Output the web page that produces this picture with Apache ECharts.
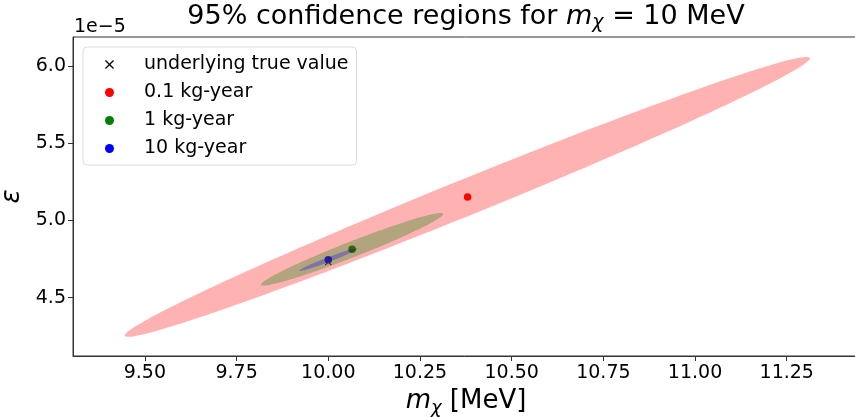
<!DOCTYPE html>
<html>
<head>
<meta charset="utf-8">
<script src="https://cdn.jsdelivr.net/npm/echarts@6/dist/echarts.min.js"></script>
<style>html,body{margin:0;padding:0;background:#fff}#main{width:855px;height:417px}</style>
</head>
<body>
<div id="main"></div>
<script>
// legend entries / scatter points
var seriesNames = ['underlying true value', '0.1 kg-year', '1 kg-year', '10 kg-year'];
var seriesColors = ['#000000', '#ff0000', '#008000', '#0000ff'];
// m_chi in MeV, epsilon in units of 1e-5
var pointMass = [10.0, 10.38, 10.065, 10.0];
var pointEps = [4.731, 5.152, 4.813, 4.746];

// 95% regions (0.1, 1, 10 kg-year): centre, end of the long axis, half vertical width at centre
var regionCenterMass = [10.379, 10.065, 10.0];
var regionCenterEps = [5.153, 4.813, 4.746];
var regionTipMass = [11.313, 10.3135, 10.079];
var regionTipEps = [6.052, 5.042, 4.8175];
var regionHalfHeight = [0.1265, 0.055, 0.016];
var regionColors = ['#ff0000', '#008000', '#0000ff'];

var xTicks = [9.5, 9.75, 10.0, 10.25, 10.5, 10.75, 11.0, 11.25];
var yTicks = [4.5, 5.0, 5.5, 6.0];

var font = 'DejaVu Sans';
var myChart = echarts.init(document.getElementById('main'));

var regionData = [];
for (var i = 0; i < regionCenterMass.length; i++) {
    regionData.push([regionCenterMass[i], regionCenterEps[i], regionTipMass[i], regionTipEps[i], regionHalfHeight[i]]);
}

var series = [];
for (var k = 0; k < seriesNames.length; k++) {
    series.push({
        name: seriesNames[k],
        type: 'scatter',
        z: 1,
        symbol: k === 0 ? 'path://M0,1L1,0L5,4L9,0L10,1L6,5L10,9L9,10L5,6L1,10L0,9L4,5Z' : 'circle',
        symbolSize: k === 0 ? 7 : 7.5,
        itemStyle: {color: seriesColors[k], opacity: 1},
        data: [[pointMass[k], pointEps[k]]]
    });
}
// confidence ellipses, drawn over the points like in the original
series.push({
    type: 'custom',
    z: 3,
    clip: true,
    data: regionData,
    encode: {x: [0, 2], y: [1, 3]},
    renderItem: function (params, api) {
        var cx = api.value(0), cy = api.value(1);
        var ax = api.value(2) - cx, ay = api.value(3) - cy;
        var h = api.value(4);
        var pts = [];
        for (var s = 0; s < 160; s++) {
            var t = 2 * Math.PI * s / 160;
            pts.push(api.coord([cx + Math.cos(t) * ax, cy + Math.cos(t) * ay + Math.sin(t) * h]));
        }
        return {
            type: 'polygon',
            shape: {points: pts},
            style: {fill: regionColors[params.dataIndex], opacity: 0.3}
        };
    }
});

var option = {
    animation: false,
    textStyle: {fontFamily: font},
    grid: {
        left: 73, top: 37, width: 786, height: 319,
        outerBoundsMode: 'none',
        containLabel: false,
        show: true, borderColor: '#333', borderWidth: 1
    },
    graphic: [
        {
            type: 'text', x: 466, y: 17,
            style: {
                text: '{a|95% confidence regions for }{i|m}{s|χ}{a| = 10 MeV}',
                align: 'center', verticalAlign: 'middle',
                rich: {
                    a: {fontFamily: font, fontSize: 27, fill: '#000'},
                    i: {fontFamily: font, fontSize: 27, fontStyle: 'italic', fill: '#000'},
                    s: {fontFamily: font, fontSize: 19, fontStyle: 'italic', fill: '#000', verticalAlign: 'bottom', padding: [13, 0, 0, 0]}
                }
            }
        },
        {
            type: 'text', x: 74, y: 27,
            style: {text: '1e\u22125', fontFamily: font, fontSize: 19, fill: '#000', align: 'left', verticalAlign: 'middle'}
        }
    ],
    legend: {
        data: seriesNames,
        orient: 'vertical',
        left: 83, top: 47,
        padding: [8, 8, 7, 22],
        itemGap: 9,
        itemWidth: 9,
        itemHeight: 9,
        backgroundColor: 'rgba(255,255,255,0.8)',
        borderColor: '#dcdcdc', borderWidth: 1, borderRadius: 4,
        formatter: '{t|{name}}',
        textStyle: {
            fontFamily: font, fontSize: 19, color: '#000',
            rich: {t: {fontFamily: font, fontSize: 19, color: '#000', padding: [0, 0, 0, 25]}}
        }
    },
    xAxis: {
        type: 'value',
        min: 9.304, max: 11.447,
        name: '{i|m}{s|χ}{a| [MeV]}',
        nameLocation: 'middle',
        nameGap: 30,
        nameTextStyle: {
            rich: {
                a: {fontFamily: font, fontSize: 26, color: '#000'},
                i: {fontFamily: font, fontSize: 26, fontStyle: 'italic', color: '#000'},
                s: {fontFamily: font, fontSize: 18, fontStyle: 'italic', color: '#000', verticalAlign: 'bottom', padding: [13, 0, 0, 0]}
            }
        },
        splitLine: {show: false},
        axisLine: {onZero: false, lineStyle: {color: '#333', width: 1}},
        axisTick: {show: true, length: 5, customValues: xTicks, lineStyle: {color: '#333'}},
        axisLabel: {
            customValues: xTicks, margin: 8,
            fontFamily: font, fontSize: 19, color: '#000',
            formatter: function (v) { return v.toFixed(2); }
        }
    },
    yAxis: {
        type: 'value',
        min: 4.121, max: 6.19,
        name: 'ε',
        nameLocation: 'middle',
        nameGap: 42,
        nameRotate: 90,
        nameTextStyle: {fontFamily: font, fontSize: 26, fontStyle: 'italic', color: '#000'},
        splitLine: {show: false},
        axisLine: {show: true, onZero: false, lineStyle: {color: '#333', width: 1}},
        axisTick: {show: true, length: 5, customValues: yTicks, lineStyle: {color: '#333'}},
        axisLabel: {
            customValues: yTicks, margin: 7,
            fontFamily: font, fontSize: 19, color: '#000',
            formatter: function (v) { return v.toFixed(1); }
        }
    },
    series: series
};
myChart.setOption(option);
</script>
</body>
</html>
